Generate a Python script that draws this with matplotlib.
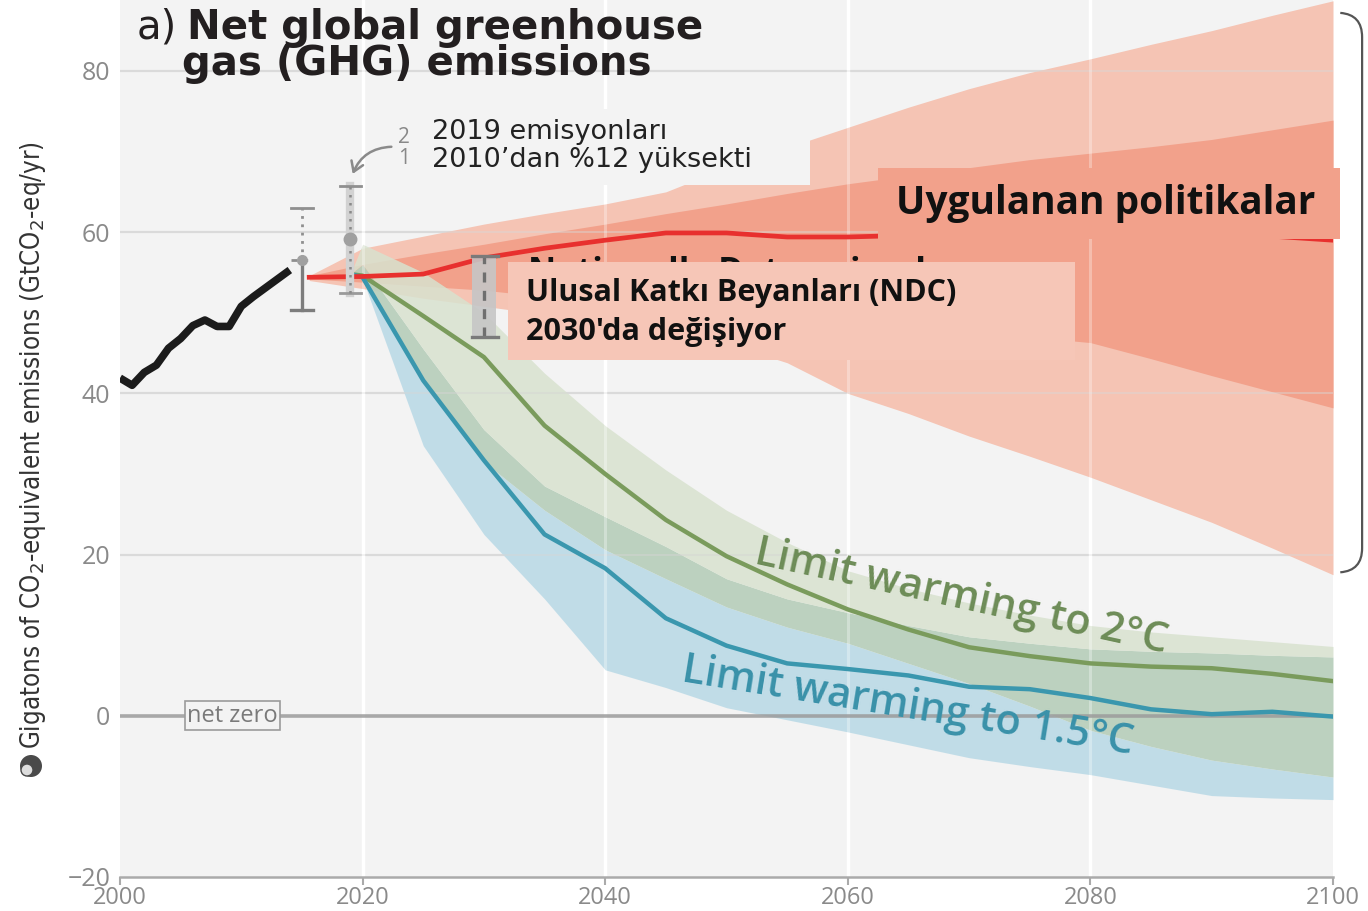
import numpy as np
import matplotlib
matplotlib.use("Agg")
import matplotlib.pyplot as plt
from matplotlib.patches import Rectangle, Ellipse, PathPatch
from matplotlib.path import Path

plt.rcParams['font.family'] = ['Open Sans', 'DejaVu Sans']

# historical net GHG emissions (GtCO2-eq/yr)
hist_years = [2000, 2001, 2002, 2003, 2004, 2005, 2006, 2007, 2008, 2009, 2010, 2011, 2012, 2013, 2014]
hist_vals = [41.9, 41.0, 42.6, 43.5, 45.6, 46.8, 48.4, 49.1, 48.3, 48.3, 50.8, 52.0, 53.1, 54.2, 55.3]

# uncertainty bars: low, central, high
err_2015 = [50.3, 56.6, 63.0]
err_2019 = [52.5, 59.1, 65.7]
ndc_2030 = [47.0, 57.0]

# implemented policies: median, inner range, full range
cp_years = [2015.6, 2020, 2025, 2030, 2035, 2040, 2045, 2050, 2055, 2060, 2065, 2070, 2075, 2080, 2085, 2090, 2095, 2100]
cp_med = [54.4, 54.5, 54.8, 56.8, 58.0, 59.0, 59.9, 59.9, 59.4, 59.4, 59.6, 59.8, 59.8, 59.8, 59.8, 59.7, 59.5, 59.0]
cp_in_hi = [54.6, 56.0, 57.3, 58.5, 59.8, 61.0, 62.3, 63.5, 64.8, 66.0, 67.0, 68.0, 69.0, 69.8, 70.6, 71.5, 72.7, 73.9]
cp_in_lo = [54.2, 53.8, 53.3, 52.8, 52.0, 51.3, 50.5, 49.8, 49.2, 48.6, 48.0, 47.5, 47.0, 46.3, 44.3, 42.2, 40.2, 38.2]
cp_hi = [54.6, 58.0, 59.5, 61.0, 62.3, 63.5, 65.0, 68.0, 70.5, 73.0, 75.5, 77.8, 79.8, 81.5, 83.3, 85.0, 86.9, 88.7]
cp_lo = [54.0, 53.0, 51.8, 50.8, 49.8, 48.8, 47.5, 46.2, 43.8, 40.0, 37.5, 34.7, 32.2, 29.6, 26.8, 24.0, 20.8, 17.5]

# pathways limiting warming to 2°C and 1.5°C
path_years = [2019, 2020, 2025, 2030, 2035, 2040, 2045, 2050, 2055, 2060, 2065, 2070, 2075, 2080, 2085, 2090, 2095, 2100]
c2_med = [54.8, 54.6, 49.6, 44.5, 36.0, 30.0, 24.3, 19.8, 16.3, 13.2, 10.7, 8.5, 7.4, 6.5, 6.1, 5.9, 5.2, 4.3]
c2_hi = [54.8, 58.5, 55.0, 50.0, 42.5, 36.0, 30.5, 25.5, 21.5, 18.0, 15.8, 14.0, 12.5, 11.2, 10.4, 9.8, 9.2, 8.6]
c2_lo = [54.8, 54.6, 41.5, 31.5, 25.5, 20.6, 17.0, 13.5, 11.0, 9.0, 6.5, 4.0, 1.2, -1.8, -3.8, -5.5, -6.6, -7.6]
c15_med = [54.8, 54.4, 41.6, 31.7, 22.5, 18.3, 12.1, 8.7, 6.5, 5.8, 5.0, 3.6, 3.3, 2.2, 0.8, 0.2, 0.5, -0.1]
c15_hi = [54.8, 56.0, 45.5, 35.5, 28.5, 24.7, 21.0, 17.0, 14.5, 12.8, 11.2, 9.8, 9.0, 8.3, 8.0, 7.8, 7.5, 7.3]
c15_lo = [54.8, 54.2, 33.5, 22.5, 14.5, 5.7, 3.5, 1.0, -0.5, -2.0, -3.6, -5.2, -6.3, -7.3, -8.6, -9.9, -10.2, -10.4]

x_ticks = [2000, 2020, 2040, 2060, 2080, 2100]
y_ticks = [-20, 0, 20, 40, 60, 80]

BG = '#f3f3f3'
SALMON_LT = '#f5c4b4'
SALMON_DK = '#f2a18b'
GREEN_LT = '#d8e2cf'
GREEN_BLUE = '#b8cfbb'
BLUE_LT = '#bddbe7'
GREY_TXT = '#8a8a8a'

fig = plt.figure(figsize=(13.68, 9.11), dpi=100)
ax = fig.add_axes([120 / 1368, 34 / 911, 1213 / 1368, 877 / 911])
ax.set_facecolor(BG)
ax.set_xlim(2000, 2100)
ax.set_ylim(-20, 88.8)

# grid
for yv in y_ticks[2:]:
    ax.axhline(yv, color='#dcdcdc', lw=1.6, zorder=0.5)
for xv in x_ticks[1:-1]:
    ax.axvline(xv, color='white', lw=2.5, zorder=0.5)

# implemented policies ranges
ax.fill_between(cp_years, cp_lo, cp_hi, color=SALMON_LT, lw=0, zorder=1)
ax.fill_between(cp_years, cp_in_lo, cp_in_hi, color=SALMON_DK, lw=0, zorder=1.1)

# 1.5°C / 2°C ranges, split into blue-only, overlap and green-only parts
py = np.array(path_years, dtype=float)
g_hi, g_lo = np.array(c2_hi), np.array(c2_lo)
b_hi, b_lo = np.array(c15_hi), np.array(c15_lo)
ax.fill_between(py, b_lo, np.minimum(b_hi, g_lo), color=BLUE_LT, lw=0, alpha=0.93, zorder=1.5)
ax.fill_between(py, np.maximum(b_lo, g_lo), np.minimum(b_hi, g_hi), color=GREEN_BLUE, lw=0, alpha=0.93, zorder=1.5)
ax.fill_between(py, np.maximum(g_lo, b_hi), g_hi, color=GREEN_LT, lw=0, alpha=0.85, zorder=1.5)

# faint grid showing through the ranges
for yv in y_ticks[2:]:
    ax.axhline(yv, color='#d8d8d8', lw=1.4, alpha=0.45, zorder=1.8)
for xv in x_ticks[1:-1]:
    ax.axvline(xv, color='white', lw=2.2, alpha=0.3, zorder=1.8)

# net zero line
ax.axhline(0, color='#9b9b9b', lw=2.6, alpha=0.85, zorder=2)
ax.text(2009.3, 0, 'net zero', ha='center', va='center', fontsize=17, color='#7a7a7a', zorder=6,
        bbox=dict(boxstyle='square,pad=0.1', fc=BG, ec='#9b9b9b', lw=1.2))

# medians
ax.plot(py, c2_med, color='#7a9b5c', lw=3.2, zorder=3, solid_joinstyle='round')
ax.plot(py, c15_med, color='#3a97ae', lw=3.2, zorder=3, solid_joinstyle='round')
ax.plot(cp_years, cp_med, color='#e8302e', lw=3.4, zorder=3.2)
ax.plot(hist_years, hist_vals, color='#1b1b1b', lw=5.5, zorder=4, solid_capstyle='butt')

# 2015 estimate
gx = 2015.0
ax.plot([gx, gx], [err_2015[1], err_2015[2]], color='#8f8f8f', lw=2, ls=(0, (1, 2)), zorder=4)
ax.plot([gx, gx], [err_2015[0], err_2015[1]], color='#7d7d7d', lw=2.4, zorder=4)
ax.plot([gx - 0.9, gx + 0.9], [err_2015[2]] * 2, color='#8f8f8f', lw=2, zorder=4)
ax.plot([gx - 0.9, gx + 0.9], [err_2015[0]] * 2, color='#7d7d7d', lw=2.4, zorder=4)
ax.plot([gx - 0.9, gx + 0.9], [err_2015[1]] * 2, color='#8f8f8f', lw=2, ls=(0, (2, 2)), zorder=4)
ax.plot([gx], [err_2015[1]], 'o', color='#a0a0a0', ms=7, zorder=4.1)

# 2019 estimate
gx = 2019.0
ax.plot([gx, gx], [err_2019[0], err_2019[2]], color='#d2d2d2', lw=6, zorder=4)
ax.plot([gx, gx], [err_2019[0], err_2019[2]], color='#8a8a8a', lw=1.8, ls=(0, (1, 2.2)), zorder=4.05)
ax.plot([gx - 0.9, gx + 0.9], [err_2019[2]] * 2, color='#8f8f8f', lw=2, zorder=4)
ax.plot([gx - 0.9, gx + 0.9], [err_2019[0]] * 2, color='#9a9a9a', lw=2, zorder=4)
ax.plot([gx], [err_2019[1]], 'o', color='#a0a0a0', ms=9, zorder=4.1)

# 2030 NDC range
ax.add_patch(Rectangle((2029.0, ndc_2030[0]), 2.0, ndc_2030[1] - ndc_2030[0], fc='#c6c6c6', ec='none',
                       alpha=0.9, zorder=4))
ax.plot([2030, 2030], ndc_2030, color='#6f6f6f', lw=2.4, ls=(0, (3, 2.5)), zorder=4.1)
for yv in ndc_2030:
    ax.plot([2029.0, 2031.2], [yv, yv], color='#7a7a7a', lw=2.4, zorder=4.1)

# text hidden behind the NDC box
ax.text(2033.6, 57.1, 'Nationally Determined', fontsize=25, weight='bold', color='#111111',
        ha='left', va='top', zorder=4.5)

# label boxes
ax.add_patch(Rectangle((2024.7, 65.8), 32.2, 9.5, fc=BG, ec='none', zorder=5))
ax.text(2025.7, 72.4, '2019 emisyonları', fontsize=19.5, color='#222222', ha='left', va='center',
        family=['DejaVu Sans'], zorder=6)
ax.text(2025.7, 68.9, '2010’dan %12 yüksekti', fontsize=19.5, color='#222222', ha='left', va='center',
        family=['DejaVu Sans'], zorder=6)
ax.text(2023.4, 71.8, '2', fontsize=15, color='#888888', ha='center', va='center', zorder=6)
ax.text(2023.4, 69.1, '1', fontsize=15, color='#888888', ha='center', va='center', zorder=6)
ax.annotate('', xy=(2019.1, 66.9), xytext=(2022.6, 70.6),
            arrowprops=dict(arrowstyle='->,head_length=0.7,head_width=0.45', color='#8a8a8a', lw=1.8,
                            connectionstyle='arc3,rad=0.35'), zorder=6)

ax.add_patch(Rectangle((2062.5, 59.2), 38.1, 8.7, fc=SALMON_DK, ec='none', zorder=5, clip_on=False))
ax.text(2064.0, 63.5, 'Uygulanan politikalar', fontsize=28, weight='bold', color='#111111',
        ha='left', va='center', zorder=6)

ax.add_patch(Rectangle((2032.0, 44.1), 46.7, 12.2, fc='#f6c6b7', ec='none', zorder=5))
ax.text(2033.5, 52.4, 'Ulusal Katkı Beyanları (NDC)', fontsize=22, weight='bold', color='#111111',
        ha='left', va='center', zorder=6)
ax.text(2033.5, 47.6, "2030'da değişiyor", fontsize=22, weight='bold', color='#111111',
        ha='left', va='center', zorder=6)

# pathway labels
ax.text(2052.4, 20.2, 'Limit warming to 2°C', fontsize=30, weight='semibold', color='#6d8c57',
        rotation=-12.3, rotation_mode='anchor', ha='left', va='center', zorder=6)
ax.text(2046.4, 5.7, 'Limit warming to 1.5°C', fontsize=30, weight='semibold', color='#3991a9',
        rotation=-9.2, rotation_mode='anchor', ha='left', va='center', zorder=6)

# brace for the implemented policies range
brace = Path([(2100.6, 87.2), (2102.4, 87.0), (2102.4, 84.2),
              (2102.4, 55.0), (2102.4, 20.8),
              (2102.4, 18.0), (2100.6, 17.8)],
             [Path.MOVETO, Path.CURVE3, Path.CURVE3, Path.LINETO, Path.LINETO, Path.CURVE3, Path.CURVE3])
ax.add_patch(PathPatch(brace, fc='none', ec='#555555', lw=1.6, clip_on=False, zorder=6))

# axes styling
for side in ['left', 'right', 'top']:
    ax.spines[side].set_visible(False)
ax.spines['bottom'].set_color('#aaaaaa')
ax.spines['bottom'].set_linewidth(1.8)
ax.set_xticks(x_ticks)
ax.set_yticks(y_ticks)
ax.set_yticklabels(['−20', '0', '20', '40', '60', '80'])
ax.tick_params(axis='y', length=0, pad=7, labelsize=18, labelcolor=GREY_TXT)
ax.tick_params(axis='x', length=6, width=1.5, color='#aaaaaa', pad=0.5, labelsize=17, labelcolor=GREY_TXT)

# title
fig.text(137 / 1368, 1 - 28 / 911, 'a)', fontsize=29, color='#231f20', va='center', ha='left',
         family=['DejaVu Sans'])
fig.text(187 / 1368, 1 - 28 / 911, 'Net global greenhouse', fontsize=29, weight='bold', color='#231f20',
         va='center', ha='left', family=['DejaVu Sans'])
fig.text(182 / 1368, 1 - 64 / 911, 'gas (GHG) emissions', fontsize=29, weight='bold', color='#231f20',
         va='center', ha='left', family=['DejaVu Sans'])

# y axis label with its icon
fig.text(33 / 1368, 1 - 445 / 911, 'Gigatons of CO$_2$-equivalent emissions (GtCO$_2$-eq/yr)', rotation=90,
         fontsize=18.5, color='#333333', ha='center', va='center',
         family=['DejaVu Sans'], fontstretch='condensed')
fig.patches.append(Ellipse((31 / 1368, 1 - 766 / 911), 22 / 1368, 22 / 911, transform=fig.transFigure,
                           fc='#4a4a4a', ec='none'))
fig.patches.append(Ellipse((27 / 1368, 1 - 770 / 911), 12 / 1368, 12 / 911, transform=fig.transFigure,
                           fc='#dddddd', ec='#4a4a4a', lw=1))

fig.savefig('out.png', dpi=100, facecolor='white')
